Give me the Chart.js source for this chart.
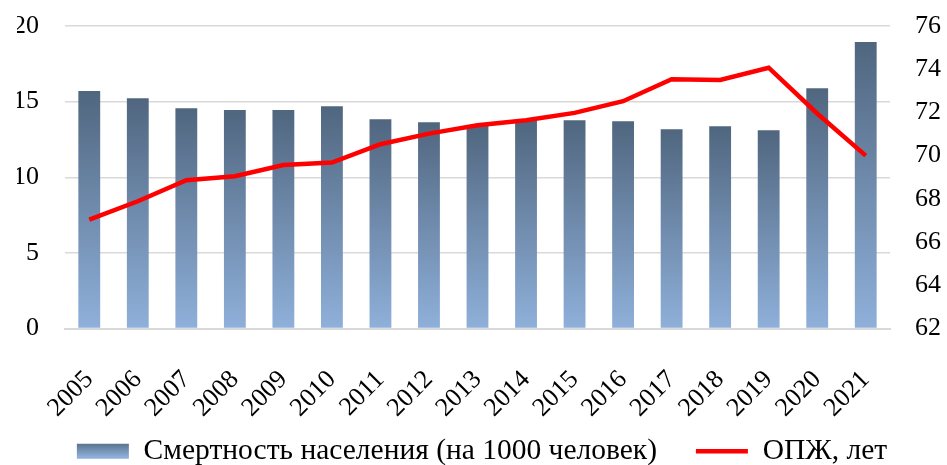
<!DOCTYPE html>
<html>
<head>
<meta charset="utf-8">
<script src="https://cdn.jsdelivr.net/npm/chart.js@4"></script>
<style>
  html, body { margin: 0; padding: 0; background: #fff; }
  #wrap { width: 947px; height: 465px; }
</style>
</head>
<body>
<div id="wrap"><canvas id="myChart"></canvas></div>
<script>
'use strict';

// data
let years = ['2005', '2006', '2007', '2008', '2009', '2010', '2011', '2012', '2013',
  '2014', '2015', '2016', '2017', '2018', '2019', '2020', '2021'];
let mortality = [15.7, 15.23, 14.57, 14.44, 14.44, 14.7, 13.84, 13.64, 13.45,
  13.73, 13.77, 13.7, 13.18, 13.38, 13.11, 15.89, 18.94];
let lifeExp = [67.04, 67.89, 68.86, 69.05, 69.57, 69.68, 70.53, 71.02, 71.41,
  71.64, 71.98, 72.52, 73.54, 73.5, 74.07, 71.95, 70.0];
let leftTicks = [0, 5, 10, 15, 20];
let rightTicks = [62, 64, 66, 68, 70, 72, 74, 76];

let barLabel = 'Смертность населения (на 1000 человек)';
let lineLabel = 'ОПЖ, лет';

const topColor = '#50667f';
const bottomColor = '#8fb0da';
const fontFamily = "'Liberation Serif', 'Times New Roman', serif";

function barGradient(context) {
  const chart = context.chart;
  if (!chart.chartArea || context.type !== 'data') return topColor;
  const yScale = chart.scales.y;
  const top = yScale.getPixelForValue(mortality[context.dataIndex]);
  const base = yScale.getPixelForValue(0);
  const g = chart.ctx.createLinearGradient(0, top, 0, base);
  g.addColorStop(0, topColor);
  g.addColorStop(1, bottomColor);
  return g;
}

// keep the tick padding from pushing the plot area down
function trimPadding(scale, width) {
  scale.width = width;
  scale.paddingTop = 14;
  scale.paddingBottom = 14;
}

let chartCanvas = document.getElementById('myChart').getContext('2d');

const chartData = {
  labels: years,
  datasets: [
    {
      type: 'line',
      label: lineLabel,
      data: lifeExp,
      yAxisID: 'y1',
      borderColor: '#ff0000',
      borderWidth: 4.5,
      pointRadius: 0,
      tension: 0,
      order: 0,
    },
    {
      type: 'bar',
      label: barLabel,
      data: mortality,
      yAxisID: 'y',
      backgroundColor: barGradient,
      borderWidth: 0,
      categoryPercentage: 1,
      barPercentage: 0.45,
      order: 1,
    },
  ],
};

const config = {
  data: chartData,
  options: {
    responsive: true,
    maintainAspectRatio: false,
    animation: false,
    layout: { padding: { top: 26, left: 17, right: 0, bottom: -11 } },
    plugins: {
      tooltip: { enabled: false },
      legend: {
        position: 'bottom',
        labels: {
          font: { family: fontFamily, size: 29.5 },
          color: '#000',
          usePointStyle: true,
          pointStyleWidth: 52,
          boxHeight: 15,
          padding: 2,
          generateLabels: function (chart) {
            const g = chart.ctx.createLinearGradient(0, 441, 0, 457);
            g.addColorStop(0, topColor);
            g.addColorStop(1, bottomColor);
            return [
              {
                text: barLabel + '     ',
                fillStyle: g,
                strokeStyle: 'rgba(0,0,0,0)',
                lineWidth: 0,
                pointStyle: 'rect',
                datasetIndex: 1,
              },
              {
                text: lineLabel,
                fillStyle: '#ff0000',
                strokeStyle: '#ff0000',
                lineWidth: 4.5,
                pointStyle: 'line',
                datasetIndex: 0,
              },
            ];
          },
        },
      },
    },
    scales: {
      x: {
        grid: { display: false, drawTicks: false },
        border: { display: true, color: '#d9d9d9', width: 2 },
        ticks: {
          font: { family: fontFamily, size: 26 },
          color: '#000',
          minRotation: 45,
          maxRotation: 45,
          padding: 36,
        },
        afterFit: function (scale) { scale.height = 106; },
      },
      y: {
        position: 'left',
        min: 0,
        max: 20,
        afterBuildTicks: function (scale) {
          scale.ticks = leftTicks.map(function (v) { return { value: v }; });
        },
        grid: { color: '#d9d9d9', lineWidth: 1.5, drawTicks: false },
        border: { display: false },
        ticks: {
          font: { family: fontFamily, size: 26 },
          color: '#000',
          padding: 26,
        },
        afterFit: function (scale) { trimPadding(scale, 48); },
      },
      y1: {
        position: 'right',
        min: 62,
        max: 76,
        afterBuildTicks: function (scale) {
          scale.ticks = rightTicks.map(function (v) { return { value: v }; });
        },
        grid: { display: false, drawTicks: false },
        border: { display: false },
        ticks: {
          font: { family: fontFamily, size: 26 },
          color: '#000',
          padding: 25,
        },
        afterFit: function (scale) { trimPadding(scale, 57); },
      },
    },
  },
};

const myChart = new Chart(chartCanvas, config);
</script>
</body>
</html>
